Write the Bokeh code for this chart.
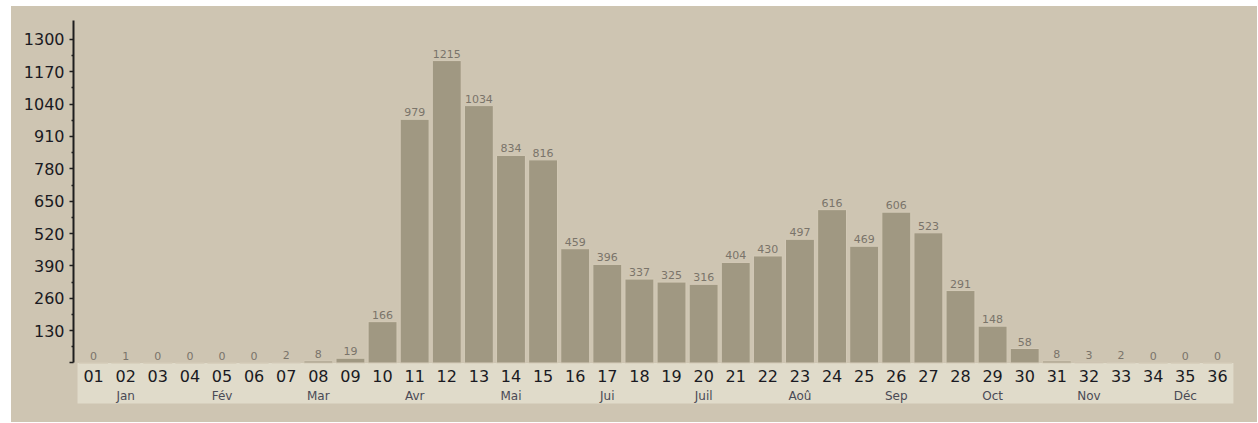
from bokeh.plotting import figure
from bokeh.models import ColumnDataSource, Range1d, FixedTicker, Spacer
from bokeh.layouts import row, column
from bokeh.core.properties import value
from bokeh.embed import file_html
from bokeh.resources import INLINE

weeks = ["01", "02", "03", "04", "05", "06", "07", "08", "09", "10", "11", "12",
         "13", "14", "15", "16", "17", "18", "19", "20", "21", "22", "23", "24",
         "25", "26", "27", "28", "29", "30", "31", "32", "33", "34", "35", "36"]
counts = [0, 1, 0, 0, 0, 0, 2, 8, 19, 166, 979, 1215, 1034, 834, 816, 459, 396,
          337, 325, 316, 404, 430, 497, 616, 469, 606, 523, 291, 148, 58, 8, 3,
          2, 0, 0, 0]
months = ["Jan", "Fév", "Mar", "Avr", "Mai", "Jui", "Juil", "Aoû", "Sep", "Oct", "Nov", "Déc"]
month_weeks = ["02", "05", "08", "11", "14", "17", "20", "23", "26", "29", "32", "35"]
y_ticks = [0, 130, 260, 390, 520, 650, 780, 910, 1040, 1170, 1300]

BG = "#cec5b2"
BAND = "#e0dbca"
BAR = "#a09882"
FONT = "DejaVu Sans"
BAND_DEPTH = 163  # depth of the label band below the baseline, in axis units

xs = list(range(1, len(weeks) + 1))
src = ColumnDataSource(dict(x=xs, top=counts, week=weeks,
                            lab=[str(c) for c in counts]))
msrc = ColumnDataSource(dict(x=[weeks.index(w) + 1 for w in month_weeks], m=months))

p = figure(width=1246, height=416, output_backend="svg", toolbar_location=None,
           x_range=Range1d(0.375, 36.72), y_range=Range1d(-191, 1376),
           x_axis_location=None, min_border_left=62, min_border_right=17,
           min_border_top=14, min_border_bottom=12,
           styles={"background-color": BG})
p.background_fill_color = BG
p.border_fill_color = BG
p.outline_line_color = None
p.grid.visible = False

# category band under the bars
p.quad(left=[0.5], right=[len(weeks) + 0.5], bottom=[-BAND_DEPTH], top=[0],
       fill_color=BAND, line_color=None)

p.vbar(x="x", top="top", bottom=0, width=0.9, source=src,
       fill_color=BAR, line_color="#d3cab7", line_width=1)

p.text(x="x", y="top", text="lab", source=src, y_offset=-3,
       text_align="center", text_baseline="bottom", text_font=value(FONT),
       text_font_size="11px", text_color="#7a746a")

p.text(x="x", y=0, text="week", source=src, y_offset=13,
       text_align="center", text_baseline="middle", text_font=value(FONT),
       text_font_size="16px", text_color="#1a1a22")

p.text(x="x", y=0, text="m", source=msrc, y_offset=33,
       text_align="center", text_baseline="middle", text_font=value(FONT),
       text_font_size="12px", text_color="#4a4a55")

ax = p.yaxis[0]
ax.ticker = FixedTicker(ticks=y_ticks,
                        minor_ticks=[t + 65 for t in y_ticks[:-1]])
ax.major_label_overrides = {0: ""}
ax.bounds = (0, 1376)
ax.axis_line_color = "#1e1e1e"
ax.axis_line_width = 2
ax.major_tick_line_color = "#1e1e1e"
ax.major_tick_line_width = 1.5
ax.major_tick_out = 4
ax.major_tick_in = 0
ax.minor_tick_line_color = "#1e1e1e"
ax.minor_tick_line_width = 1.5
ax.minor_tick_out = 2
ax.minor_tick_in = 0
ax.major_label_standoff = 5
ax.major_label_text_font = FONT
ax.major_label_text_font_size = "16px"
ax.major_label_text_color = "#1a1a22"

layout = row(Spacer(width=11), column(Spacer(height=6), p))

open("out.html", "w").write(file_html(layout, INLINE))
